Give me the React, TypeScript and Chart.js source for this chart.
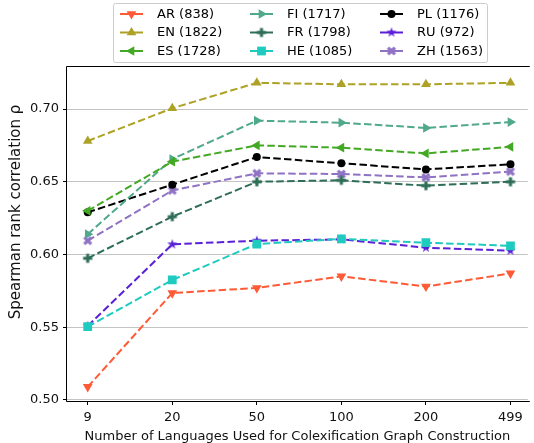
import React, { useEffect, useRef } from 'react';
import { Chart, registerables } from 'chart.js';
import { drawPoint } from 'chart.js/helpers';

Chart.register(...registerables);

const categories = ['9', '20', '50', '100', '200', '499'];
const yTicks = [0.5, 0.55, 0.6, 0.65, 0.7];

const AR = [0.509, 0.5735, 0.577, 0.585, 0.578, 0.587];
const EN = [0.678, 0.7005, 0.718, 0.717, 0.717, 0.718];
const ES = [0.63, 0.6638, 0.675, 0.6734, 0.6695, 0.674];
const FI = [0.614, 0.6656, 0.692, 0.6906, 0.687, 0.691];
const FR = [0.5974, 0.626, 0.65, 0.651, 0.6473, 0.65];
const HE = [0.5504, 0.5825, 0.6072, 0.6107, 0.6081, 0.606];
const PL = [0.629, 0.648, 0.667, 0.6627, 0.6585, 0.662];
const RU = [0.5509, 0.607, 0.6095, 0.6104, 0.6047, 0.6026];
const ZH = [0.6095, 0.644, 0.6558, 0.6553, 0.653, 0.657];

const seriesNames = ['AR (838)', 'EN (1822)', 'ES (1728)', 'FI (1717)', 'FR (1798)', 'HE (1085)', 'PL (1176)', 'RU (972)', 'ZH (1563)'];
const seriesValues = [AR, EN, ES, FI, FR, HE, PL, RU, ZH];
const seriesColors = ['#fe5a35', '#ada226', '#43a823', '#50a98a', '#2e6e57', '#1fcbbf', '#000000', '#5a1fd6', '#8f72c4'];

const yTitle = 'Spearman rank correlation ρ';
const xTitle = 'Number of Languages Used for Colexification Graph Construction';

const FONT = 'DejaVu Sans';

function makeMarker(kind: string, color: string): HTMLCanvasElement {
  const w = 14;
  const c = document.createElement('canvas');
  c.width = w;
  c.height = w;
  const ctx = c.getContext('2d')!;
  ctx.fillStyle = color;
  ctx.translate(w / 2, w / 2);
  ctx.beginPath();
  if (kind === 'plus' || kind === 'x') {
    let L = 4.6, h = 1.55;
    if (kind === 'x') {
      ctx.rotate(Math.PI / 4);
      L = 4.9;
    }
    const pts = [[-h, -L], [h, -L], [h, -h], [L, -h], [L, h], [h, h], [h, L], [-h, L], [-h, h], [-L, h], [-L, -h], [-h, -h]];
    pts.forEach((p, i) => (i === 0 ? ctx.moveTo(p[0], p[1]) : ctx.lineTo(p[0], p[1])));
  } else if (kind === 'star') {
    const R = 5.3, r = R * 0.381966;
    for (let i = 0; i < 10; i++) {
      const rad = i % 2 === 0 ? R : r;
      const a = -Math.PI / 2 + (i * Math.PI) / 5;
      const x = Math.cos(a) * rad, y = Math.sin(a) * rad;
      i === 0 ? ctx.moveTo(x, y) : ctx.lineTo(x, y);
    }
  }
  ctx.closePath();
  ctx.fill();
  return c;
}

export default function App() {
  const ref = useRef<HTMLCanvasElement | null>(null);

  useEffect(() => {
    if (!ref.current) return;
    const markers: any[] = [
      { style: 'triangle', rotation: 180, radius: 5.6 },
      { style: 'triangle', rotation: 0, radius: 5.6 },
      { style: 'triangle', rotation: 270, radius: 5.6 },
      { style: 'triangle', rotation: 90, radius: 5.6 },
      { style: makeMarker('plus', seriesColors[4]), rotation: 0, radius: 5 },
      { style: 'rect', rotation: 0, radius: 6.2 },
      { style: 'circle', rotation: 0, radius: 4 },
      { style: makeMarker('star', seriesColors[7]), rotation: 0, radius: 5 },
      { style: makeMarker('x', seriesColors[8]), rotation: 0, radius: 5 },
    ];

    const datasets = seriesNames.map((name, i) => ({
      label: name,
      data: seriesValues[i].map((v, j) => ({ x: j, y: v })),
      borderColor: seriesColors[i],
      backgroundColor: seriesColors[i],
      borderWidth: 2,
      borderDash: [7.5, 3.3],
      pointStyle: markers[i].style,
      pointRotation: markers[i].rotation,
      pointRadius: markers[i].radius,
      pointBorderWidth: 0,
      pointBackgroundColor: seriesColors[i],
      pointBorderColor: seriesColors[i],
      tension: 0,
    }));

    const framePlugin = {
      id: 'frame',
      afterDatasetsDraw(chart: any) {
        const { ctx, chartArea: a } = chart;
        ctx.save();
        ctx.strokeStyle = '#000';
        ctx.lineWidth = 1;
        ctx.beginPath();
        ctx.moveTo(a.right + 2, a.top - 0.5);
        ctx.lineTo(a.left - 0.5, a.top - 0.5);
        ctx.lineTo(a.left - 0.5, a.bottom + 0.5);
        ctx.lineTo(a.right + 2, a.bottom + 0.5);
        ctx.stroke();
        ctx.restore();
      },
      afterDraw(chart: any) {
        const ctx = chart.ctx;
        ctx.save();
        // y-axis title
        ctx.save();
        ctx.translate(16, 212);
        ctx.rotate(-Math.PI / 2);
        ctx.fillStyle = '#111';
        ctx.font = `15px "${FONT}"`;
        ctx.textAlign = 'center';
        ctx.textBaseline = 'middle';
        ctx.fillText(yTitle, 0, 0);
        ctx.restore();
        // legend box
        const bx = 113.5, by = 3.5, bw = 374, bh = 59;
        ctx.fillStyle = '#fff';
        ctx.strokeStyle = '#cccccc';
        ctx.lineWidth = 1;
        ctx.beginPath();
        ctx.roundRect(bx, by, bw, bh, 2);
        ctx.fill();
        ctx.stroke();
        const colX = [120, 250, 380];
        const rowY = [14, 32.5, 51];
        seriesNames.forEach((name, i) => {
          const cx = colX[Math.floor(i / 3)];
          const cy = rowY[i % 3];
          ctx.strokeStyle = seriesColors[i];
          ctx.fillStyle = seriesColors[i];
          ctx.lineWidth = 2;
          ctx.setLineDash([]);
          ctx.beginPath();
          ctx.moveTo(cx, cy);
          ctx.lineTo(cx + 23, cy);
          ctx.stroke();
          drawPoint(ctx, { pointStyle: markers[i].style, radius: markers[i].radius, rotation: markers[i].rotation, borderWidth: 0 } as any, cx + 11.5, cy);
          ctx.fillStyle = '#000';
          ctx.font = `13px "${FONT}"`;
          ctx.textAlign = 'left';
          ctx.textBaseline = 'middle';
          ctx.fillText(name, cx + 37, cy + 0.5);
        });
        ctx.restore();
      },
    };

    const chart = new Chart(ref.current, {
      type: 'line',
      data: { datasets: datasets as any },
      plugins: [framePlugin],
      options: {
        animation: false,
        responsive: false,
        layout: { padding: { top: 67, left: 0, right: 0, bottom: 0 } },
        plugins: { legend: { display: false }, tooltip: { enabled: false } },
        scales: {
          x: {
            type: 'linear',
            min: -0.245,
            max: 5.205,
            afterBuildTicks: (axis: any) => {
              axis.ticks = categories.map((_, i) => ({ value: i }));
            },
            afterFit: (scale: any) => {
              scale.height = 42;
            },
            ticks: {
              autoSkip: false,
              maxRotation: 0,
              padding: 5,
              color: '#111',
              font: { family: FONT, size: 13 },
              callback: (v: any) => categories[v as number] ?? '',
            },
            grid: { display: true, drawOnChartArea: false, drawTicks: true, tickLength: 4, tickColor: '#000', tickWidth: 1 },
            border: { display: false },
            title: {
              display: true,
              text: xTitle,
              color: '#111',
              font: { family: FONT, size: 13, lineHeight: 1 },
              padding: 0,
            },
          },
          y: {
            type: 'linear',
            min: 0.49931,
            max: 0.72887,
            afterBuildTicks: (axis: any) => {
              axis.ticks = yTicks.map((v) => ({ value: v }));
            },
            afterFit: (scale: any) => {
              scale.width = 67;
            },
            ticks: {
              padding: 4,
              color: '#111',
              font: { family: FONT, size: 13 },
              callback: (v: any) => Number(v).toFixed(2),
            },
            grid: { color: '#c4c4c4', lineWidth: 1, drawTicks: true, tickLength: 4, tickColor: '#000', tickWidth: 1 },
            border: { display: false },
            title: { display: false },
          },
        },
      },
    });
    return () => chart.destroy();
  }, []);

  return (
    <div style={{ position: 'fixed', left: 0, top: 0, width: 534, height: 443, background: '#fff' }}>
      <canvas ref={ref} width={534} height={443} style={{ width: 534, height: 443, display: 'block' }} />
    </div>
  );
}
